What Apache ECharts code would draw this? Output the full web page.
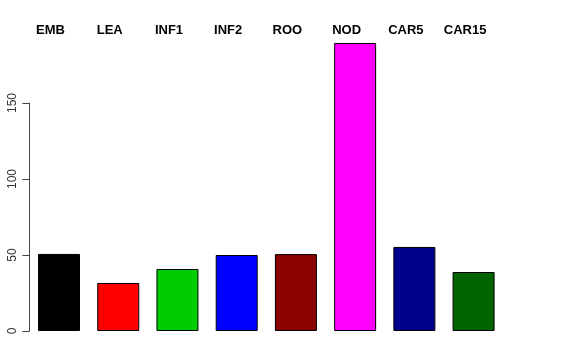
<!DOCTYPE html>
<html><head><meta charset="utf-8">
<script src="https://cdn.jsdelivr.net/npm/echarts@6/dist/echarts.min.js"></script>
<style>html,body{margin:0;padding:0;background:#fff}#c{width:576px;height:360px}</style>
</head><body><div id="c"></div>
<script>
var categories = ["EMB","LEA","INF1","INF2","ROO","NOD","CAR5","CAR15"];
var values = [50.7, 31.6, 40.8, 50.0, 50.6, 189.5, 55.3, 38.8];
var barColors = ["#000000","#FF0000","#00CD00","#0000FF","#8B0000","#FF00FF","#00008B","#006400"];
var yTicks = [0, 50, 100, 150];

var chart = echarts.init(document.getElementById('c'));
var pxPerUnit = 1.52;
var yMax = 190;
chart.setOption({
  animation: false,
  grid: [
    {left: 29.4, width: 473.8, bottom: 29, height: yMax * pxPerUnit},
    {left: 29.4, width: 473.8, bottom: 29, height: 150 * pxPerUnit}
  ],
  xAxis: [
    {gridIndex: 0, type: 'category', data: categories, position: 'top',
     axisLine: {show: false}, axisTick: {show: false},
     axisLabel: {fontFamily: 'Liberation Sans', fontWeight: 'bold', fontSize: 13, color: '#000', margin: 5, padding: [0, 17, 0, 0]}},
    {gridIndex: 1, type: 'category', data: categories, show: false}
  ],
  yAxis: [
    {gridIndex: 0, type: 'value', min: 0, max: yMax, show: false},
    {gridIndex: 1, type: 'value', min: 0, max: 150, interval: 50,
     axisLine: {show: true, lineStyle: {color: '#444', width: 1}},
     axisTick: {show: true, length: 7, lineStyle: {color: '#444'}},
     splitLine: {show: false},
     axisLabel: {rotate: 90, margin: 11, fontFamily: 'Liberation Sans', fontSize: 12, color: '#333',
       formatter: function (v) { return yTicks.indexOf(v) >= 0 ? String(v) : ''; }}}
  ],
  series: [{
    type: 'bar', xAxisIndex: 0, yAxisIndex: 0, barWidth: 42,
    data: values.map(function (v, i) {
      return {value: v, itemStyle: {color: barColors[i], borderColor: '#000', borderWidth: 1}};
    })
  }]
});
</script></body></html>
